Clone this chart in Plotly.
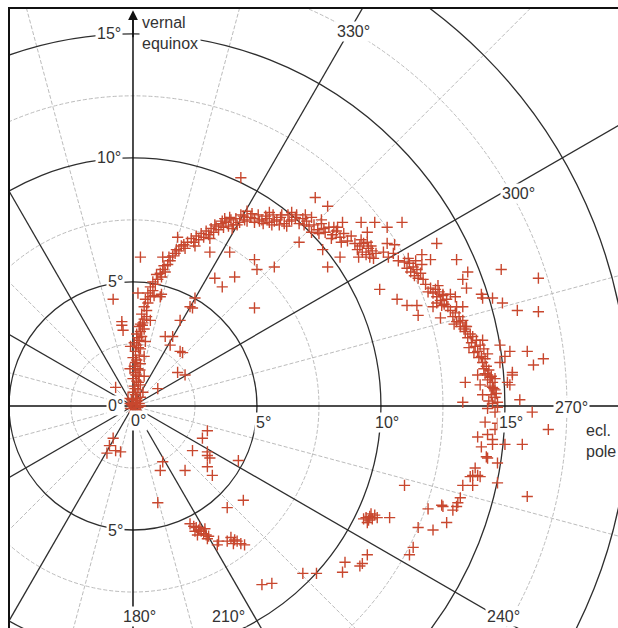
import numpy as np
import plotly.graph_objects as go

# ---------------------------------------------------------------------------
# Positions of the plotted objects, in degrees (x along the ecliptic-pole
# direction, y along the vernal-equinox direction), grouped by track section.
# ---------------------------------------------------------------------------
column_pts = [
    (0.0, 0.0), (0.1, 0.15), (-0.1, -0.1), (0.2, -0.05), (0.05, -0.25), (-0.15, 0.1),
    (0.25, 0.1), (0.15, 0.3), (-0.05, 0.25), (0.3, 0.0), (-0.2, 0.3), (0.1, 0.45),
    (0.3, 0.35), (0.0, 0.55), (0.2, 0.65), (0.05, 0.8), (0.3, 0.85), (0.15, 1.0),
    (0.0, 1.1), (0.25, 1.2), (0.1, 1.35), (0.2, 1.5), (0.05, 1.6), (0.3, 1.7),
    (0.15, 1.85), (0.0, 1.95), (0.25, 2.05), (0.1, 2.2), (0.3, 2.3), (0.15, 2.45),
    (0.05, 2.55), (0.25, 2.65), (0.35, 2.8), (0.15, 2.9), (0.3, 3.0), (0.45, 3.1),
    (0.25, 3.2), (0.4, 3.35), (0.12, -0.15), (-0.05, 0.05), (0.18, 0.22), (0.08, 0.7),
    (0.22, 0.95), (0.12, 1.25), (0.28, 1.45), (0.1, 1.75), (0.22, 2.35), (0.2, 2.75),
    (0.38, 3.25), (0.45, 2.0), (0.45, 1.2), (-0.12, 1.5), (0.4, 0.55), (-0.1, 2.4),
    (0.5, 2.6), (0.55, 3.6),
]

rising_pts = [
    (0.3, 3.3), (0.45, 3.5), (0.35, 3.7), (0.55, 3.85), (0.45, 4.0), (0.6, 4.15),
    (0.5, 4.3), (0.7, 4.4), (0.6, 4.55), (0.8, 4.65), (0.7, 4.8), (0.9, 4.9),
    (0.8, 5.0), (1.0, 5.1), (0.95, 5.3), (1.1, 5.35), (1.2, 5.5), (1.3, 5.4),
    (1.25, 5.65), (1.4, 5.7), (1.5, 5.85), (1.45, 6.0), (1.6, 6.05), (1.7, 6.15),
    (1.75, 6.3), (1.85, 6.25), (1.95, 6.45), (2.05, 6.5), (2.1, 6.35), (2.2, 6.6),
    (2.35, 6.75), (2.45, 6.6), (2.55, 6.85), (2.65, 6.7), (2.75, 6.95), (2.85, 6.8),
    (2.95, 7.05), (3.05, 6.9), (3.15, 7.15), (3.25, 7.0), (3.35, 7.25), (3.45, 7.1),
    (3.55, 7.35), (3.65, 7.2), (3.75, 7.4), (3.85, 7.25), (3.95, 7.5), (4.05, 7.3),
    (3.3, 7.3), (3.6, 7.45), (3.9, 7.6), (3.1, 6.75), (2.5, 6.45), (4.0, 7.15),
    (3.7, 7.55), (1.15, 5.2), (0.85, 4.45),
]

crest_pts = [
    (4.15, 7.55), (4.3, 7.4), (4.45, 7.65), (4.6, 7.45), (4.75, 7.6), (4.9, 7.4),
    (5.05, 7.7), (5.2, 7.5), (5.35, 7.65), (5.5, 7.4), (5.65, 7.7), (5.8, 7.5),
    (5.95, 7.6), (6.1, 7.35), (6.25, 7.7), (6.4, 7.5), (6.55, 7.6), (6.7, 7.35),
    (6.85, 7.55), (7.0, 7.45), (7.1, 7.25), (7.2, 7.6), (4.2, 7.3), (4.5, 7.5),
    (4.8, 7.75), (5.1, 7.45), (5.4, 7.55), (5.7, 7.45), (6.0, 7.7), (6.3, 7.45),
    (6.6, 7.7), (6.9, 7.3), (5.25, 7.35), (4.35, 7.7), (4.6, 7.85), (5.5, 7.8),
    (6.4, 7.8), (5.9, 7.3), (6.2, 7.25), (6.95, 7.7), (4.9, 7.55), (5.6, 7.3),
]

falling_pts = [
    (7.3, 7.3), (7.45, 7.1), (7.6, 7.35), (7.75, 7.0), (7.9, 7.2), (8.05, 6.9),
    (8.2, 7.05), (8.35, 6.8), (8.5, 6.95), (8.65, 6.65), (8.8, 6.85), (8.95, 6.55),
    (7.5, 6.95), (8.0, 6.75), (8.4, 6.6), (7.2, 7.0), (7.7, 7.15), (8.25, 7.2),
    (7.6, 7.5), (8.1, 7.2),
    (9.05, 6.3), (9.15, 6.45), (9.25, 6.2), (9.3, 6.55), (9.4, 6.1), (9.5, 6.35),
    (9.55, 6.0), (9.65, 6.25), (9.7, 5.95), (9.8, 6.15), (9.2, 6.7), (9.45, 6.6),
    (9.6, 6.45), (9.1, 6.0), (10.1, 6.2), (10.3, 6.0), (10.5, 6.15), (10.7, 5.85),
    (10.25, 6.55), (10.55, 6.5), (10.95, 5.8), (11.05, 5.55), (11.15, 5.75), (11.2, 5.4),
    (11.3, 5.6), (11.35, 5.25), (11.45, 5.5), (11.5, 5.15), (11.6, 5.35), (11.7, 5.1),
    (11.1, 5.95), (11.4, 5.85), (11.65, 5.7), (12.0, 4.75), (12.1, 4.55), (12.2, 4.7),
    (12.25, 4.4), (12.35, 4.6), (12.4, 4.25), (12.5, 4.45), (12.55, 4.1), (12.65, 4.3),
    (12.7, 4.0), (11.8, 4.9), (11.9, 4.6), (12.3, 4.85), (12.8, 3.85), (12.9, 3.6),
    (13.0, 3.75), (13.05, 3.4), (13.15, 3.6), (13.2, 3.2), (13.3, 3.45), (13.35, 3.1),
    (12.95, 3.3), (13.4, 3.0), (13.5, 2.75), (13.45, 3.2), (13.6, 2.9), (13.65, 2.55),
    (13.7, 2.8), (13.8, 2.4), (13.85, 2.65), (13.9, 2.2), (14.0, 2.45), (14.05, 2.0),
    (14.15, 2.3), (14.2, 1.9), (14.3, 2.1), (13.55, 2.35), (13.75, 2.15), (14.1, 2.65),
    (13.95, 1.95), (14.1, 1.75), (14.25, 1.6), (14.35, 1.45), (14.2, 1.3), (14.45, 1.2),
    (14.3, 1.05), (14.5, 0.95), (14.4, 0.8), (14.55, 0.7), (14.15, 1.5), (14.6, 1.1),
    (14.3, 1.25), (14.4, 1.15), (14.5, 0.75), (14.6, 0.65), (14.6, 0.35), (14.7, 0.15),
    (14.5, 0.1), (14.7, -0.05), (14.6, -0.25), (14.3, -0.1), (14.45, 0.45), (14.65, 0.5),
    (14.35, 0.2),
]

lower_track_pts = [
    (14.2, -0.65), (14.7, -0.7), (14.6, -0.95), (14.3, -1.15), (14.5, -1.35), (14.05, -1.65),
    (14.5, -1.55), (14.25, -2.05), (14.3, -2.1), (14.7, -2.3), (13.8, -2.5), (13.7, -2.8),
    (13.9, -2.8), (13.6, -2.85), (14.0, -2.85), (13.3, -3.2), (13.7, -3.2), (13.2, -3.7),
    (13.1, -3.9), (13.05, -4.05), (12.9, -4.2), (12.45, -4.0), (12.5, -4.05), (12.65, -4.7),
    (12.1, -5.0), (11.5, -4.9), (11.3, -5.7), (11.15, -6.0), (9.45, -6.0), (9.25, -6.35),
    (9.15, -6.45), (8.55, -6.3), (8.45, -6.7), (7.4, -6.75), (6.85, -6.75), (5.2, -7.2),
    (5.6, -7.15),
]

clump_pts = [
    (9.3, -4.55), (9.4, -4.5), (9.5, -4.6), (9.55, -4.45), (9.65, -4.55), (9.75, -4.4),
    (9.85, -4.5), (9.45, -4.7), (9.6, -4.35), (10.35, -4.5),
    (2.3, -4.75), (2.45, -4.85), (2.55, -4.9), (2.65, -5.0), (2.75, -5.05), (2.85, -5.15),
    (2.95, -5.2), (3.05, -5.25), (2.5, -5.05), (2.7, -4.9), (2.9, -4.95), (3.0, -5.35),
    (2.6, -5.2), (3.45, -5.45), (3.4, -5.6), (3.8, -5.45), (3.95, -5.3), (4.1, -5.4),
    (4.2, -5.45), (4.35, -5.55), (4.5, -5.6), (4.05, -5.55),
]

scatter_pts = [
    (-0.45, 3.25), (-0.45, 3.4), (-0.4, 3.05), (-0.8, 4.3), (-0.7, 0.75), (0.2, 4.55),
    (1.3, 2.8), (1.6, 2.8), (1.5, 2.45), (1.9, 2.2), (2.0, 2.15), (1.8, 1.35),
    (2.1, 1.25), (1.9, 3.45), (2.3, 4.0), (1.0, 0.7), (1.8, 6.8), (0.3, 6.0),
    (1.2, 6.0), (3.1, 6.2), (3.3, 5.15), (3.6, 4.8), (4.1, 5.2), (3.9, 6.2),
    (4.9, 5.9), (5.0, 5.5), (5.7, 5.6), (4.9, 3.95), (6.7, 6.6), (2.5, 4.35),
    (2.4, 3.95), (1.1, 4.4), (1.15, 4.5), (0.7, 3.45), (4.35, 9.2), (7.35, 8.4),
    (7.85, 8.05), (8.45, 7.4), (9.2, 7.4), (9.75, 7.4), (10.85, 7.4), (10.25, 7.2),
    (9.45, 7.0), (12.25, 6.55), (11.65, 6.1), (12.0, 5.9), (13.05, 5.9), (13.3, 5.1),
    (8.35, 6.0), (7.85, 5.6), (7.65, 6.3), (9.95, 4.7), (10.65, 4.3), (11.5, 3.65),
    (11.05, 4.05), (11.45, 4.05), (12.4, 3.55), (13.5, 5.4), (13.45, 4.75), (14.85, 5.5),
    (16.35, 5.15), (14.05, 4.5), (14.1, 4.35), (14.5, 4.35), (14.9, 4.15), (15.5, 3.85),
    (16.35, 3.8), (12.5, 4.5), (12.8, 4.5), (13.0, 4.4), (15.9, 2.2), (16.55, 1.9),
    (16.15, 1.65), (15.2, 2.2), (14.8, 2.45), (15.3, 1.35), (15.3, 1.25), (15.1, 0.95),
    (15.0, 2.0), (14.8, 1.75), (13.4, 0.95), (13.3, 0.15), (15.2, 0.85), (15.6, 0.25),
    (16.1, -0.25), (16.75, -0.95), (13.9, 1.25), (14.0, 0.85), (14.1, 0.45), (13.05, 4.0),
    (13.3, 4.0), (12.1, 4.0), (12.25, 4.15), (12.45, 4.05), (13.2, 3.35), (13.4, 3.2),
    (3.0, -1.0), (2.8, -1.3), (2.4, -1.8), (3.0, -1.85), (3.0, -2.0), (3.1, -2.1),
    (3.0, -2.45), (3.2, -2.8), (2.1, -2.6), (1.2, -2.25), (1.1, -2.6), (1.0, -3.9),
    (4.25, -2.2), (4.45, -3.8), (3.8, -4.1), (-0.8, -1.3), (-0.95, -1.6), (-0.7, -1.8),
    (-0.5, -1.85), (-1.05, -1.9), (15.0, -1.55), (15.7, -1.55), (15.9, -3.65), (14.7, -3.1),
    (13.9, -1.25), (10.95, -3.2), (11.9, -4.15),
]

# Axis tick values and bearing labels
h_ticks = [0, 5, 10, 15]
v_ticks = [0, 5, 10, 15, -5]
bearings_major = list(range(0, 360, 30))
bearings_minor = list(range(15, 360, 30))
bearing_labels = [180, 210, 240, 270, 300, 330]
ring_major = [5, 10, 15, 20]
ring_minor = [2.5, 7.5, 12.5, 17.5]

X_RANGE = [-4.96, 19.56]
Y_RANGE = [-8.95, 16.0]

DARK = "#2e2e2e"
LIGHT = "#bcbcbc"
FONT = dict(family="Liberation Sans, Arial, sans-serif", size=16, color="#333333")


def direction(b):
    """Screen unit vector of a bearing (0 up, increasing counter-clockwise)."""
    t = np.radians(b)
    return -np.sin(t), np.cos(t)


all_pts = column_pts + rising_pts + crest_pts + falling_pts + lower_track_pts + clump_pts + scatter_pts
px = [p[0] for p in all_pts]
py = [p[1] for p in all_pts]

fig = go.Figure()
fig.add_trace(go.Scatter(
    x=px, y=py, mode="markers",
    marker=dict(symbol="cross-thin", size=8, color="#c8472e",
                line=dict(color="#c8472e", width=1.4)),
    hoverinfo="skip", showlegend=False,
))

shapes = []
for r in ring_minor:
    shapes.append(dict(type="circle", xref="x", yref="y", x0=-r, y0=-r, x1=r, y1=r,
                       line=dict(color=LIGHT, width=1, dash="4px,2px"), layer="below"))
for b in bearings_minor:
    dx, dy = direction(b)
    shapes.append(dict(type="line", xref="x", yref="y", x0=0, y0=0, x1=30 * dx, y1=30 * dy,
                       line=dict(color=LIGHT, width=1, dash="4px,2px"), layer="below"))
for r in ring_major:
    shapes.append(dict(type="circle", xref="x", yref="y", x0=-r, y0=-r, x1=r, y1=r,
                       line=dict(color=DARK, width=1.3), layer="below"))
for b in bearings_major:
    if b % 90 == 0:
        continue
    dx, dy = direction(b)
    shapes.append(dict(type="line", xref="x", yref="y", x0=0, y0=0, x1=30 * dx, y1=30 * dy,
                       line=dict(color=DARK, width=1.3), layer="below"))
# coordinate axes
shapes.append(dict(type="line", xref="x", yref="y", x0=X_RANGE[0], y0=0, x1=X_RANGE[1], y1=0,
                   line=dict(color="#111111", width=1.5), layer="below"))
shapes.append(dict(type="line", xref="x", yref="y", x0=0, y0=Y_RANGE[0], x1=0, y1=15.6,
                   line=dict(color="#111111", width=1.5), layer="below"))

ann = []
# arrowhead of the vertical axis
ann.append(dict(x=0, y=15.95, ax=0, ay=14.8, xref="x", yref="y", axref="x", ayref="y",
                showarrow=True, arrowhead=2, arrowsize=1.3, arrowwidth=1.5,
                arrowcolor="#111111", text=""))


def label(x, y, text, **kw):
    d = dict(x=x, y=y, xref="x", yref="y", text=text, showarrow=False,
             bgcolor="white", borderpad=1, font=FONT)
    d.update(kw)
    ann.append(d)


# horizontal axis values
for v in h_ticks:
    if v == 0:
        label(0.22, -0.6, "0°")
    else:
        label(v + 0.25, -0.65, f"{v}°")
# vertical axis values
for v in v_ticks:
    label(-0.95 if abs(v) >= 10 else -0.72, v, f"{abs(v)}°")

# bearing labels sitting on the major spokes
label_pos = {180: (0.25, -8.5), 210: (3.85, -8.5), 240: (14.95, -8.5),
             270: (17.7, -0.05), 300: (15.55, 8.55), 330: (8.9, 15.1)}
for b in bearing_labels:
    x, y = label_pos[b]
    label(x, y, f"{b}°")

label(0.25, 15.05, "vernal<br>equinox", xanchor="left", align="left", borderpad=2)
label(18.2, -1.4, "ecl.<br>pole", xanchor="left", align="left", bgcolor="rgba(0,0,0,0)")

fig.update_layout(
    width=618, height=628,
    margin=dict(l=10, r=0, t=9, b=0),
    paper_bgcolor="white", plot_bgcolor="white",
    shapes=shapes, annotations=ann,
    xaxis=dict(range=X_RANGE, showgrid=False, zeroline=False, showticklabels=False,
               ticks="", side="top", showline=True, linecolor="#111111", linewidth=2),
    yaxis=dict(range=Y_RANGE, showgrid=False, zeroline=False, showticklabels=False,
               ticks="", showline=True, linecolor="#111111", linewidth=2),
)

fig.write_html("out.html")
